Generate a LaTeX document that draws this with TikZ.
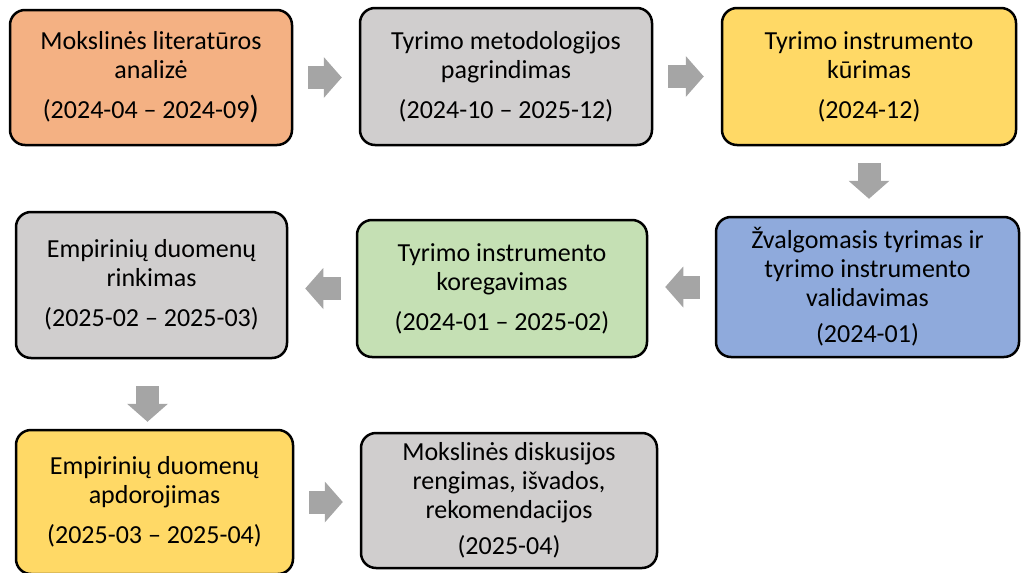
\documentclass[tikz,border=0pt]{standalone}
\usepackage{fontspec}
\setmainfont{Carlito}
\usepackage{xcolor}
\definecolor{LITCOLOR}{HTML}{F4B183}
\definecolor{GREYCOLOR}{HTML}{D0CECE}
\definecolor{YELLOWCOLOR}{HTML}{FFD966}
\definecolor{BLUECOLOR}{HTML}{8FAADC}
\definecolor{GREENCOLOR}{HTML}{C5E0B4}
\definecolor{ARROWCOLOR}{HTML}{A5A5A5}
\usetikzlibrary{arrows.meta,positioning,calc}
\tikzset{
  box-style/.style = {
    rectangle, rounded corners=15pt, draw, line width=2.5pt,
    fill=#1, align=center, inner sep=0pt,
    font=\fontsize{26}{29}\selectfont
  },
  lit-style/.style = {
    box-style=LITCOLOR
  },
  grey-style/.style = {
    box-style=GREYCOLOR
  },
  yellow-style/.style = {
    box-style=YELLOWCOLOR
  },
  blue-style/.style = {
    box-style=BLUECOLOR
  },
  green-style/.style = {
    box-style=GREENCOLOR
  },
  flow-style/.style = {
    draw=ARROWCOLOR, line width=23pt,
    -{Triangle[width=41pt,length=18pt,line width=0pt]},
    shorten <=15pt, shorten >=17pt
  }
}

\begin{document}
\begin{tikzpicture}[x=1pt,y=-1pt]
    \useasboundingbox (0,0) rectangle (1021,573);

    %%% first row
    \node[lit-style,minimum width=282pt,minimum height=135pt] (lit) at (151,77.5)
      {Mokslinės literatūros\\ analizė\\[11pt] (2024-04 – 2024-09{\fontsize{32}{32}\selectfont )}};
    \node[grey-style,minimum width=292pt,minimum height=137pt] (metod) at (506,76.5)
      {Tyrimo metodologijos\\ pagrindimas\\[11pt] (2024-10 – 2025-12)};
    \node[yellow-style,minimum width=294pt,minimum height=137pt] (kurimas) at (869,76.5)
      {Tyrimo instrumento\\ kūrimas\\[11pt] (2024-12)};

    %%% second row
    \node[blue-style,minimum width=303pt,minimum height=140pt] (zvalg) at (867.5,287)
      {Žvalgomasis tyrimas ir\\ tyrimo instrumento\\ validavimas\\[7pt] (2024-01)};
    \node[green-style,minimum width=290pt,minimum height=137pt] (koreg) at (502,288.5)
      {Tyrimo instrumento\\ koregavimas\\[11pt] (2024-01 – 2025-02)};
    \node[grey-style,minimum width=271pt,minimum height=146pt] (rinkimas) at (151.5,285)
      {Empirinių duomenų\\ rinkimas\\[11pt] (2025-02 – 2025-03)};

    %%% third row
    \node[yellow-style,minimum width=277pt,minimum height=144pt] (apdor) at (154.5,502)
      {Empirinių duomenų\\ apdorojimas\\[11pt] (2025-03 – 2025-04)};
    \node[grey-style,minimum width=296pt,minimum height=135pt] (diskus) at (509,500.5)
      {Mokslinės diskusijos\\ rengimas, išvados,\\ rekomendacijos\\[7pt] (2025-04)};

    %%% arrows
    \path[flow-style] (lit.east) -- (lit.east -| metod.west);
    \path[flow-style] (metod.east) -- (metod.east -| kurimas.west);
    \path[flow-style,shorten <=17pt] (kurimas.south) -- (kurimas.south |- zvalg.north);
    \path[flow-style] (zvalg.west) -- (zvalg.west -| koreg.east);
    \path[flow-style] (koreg.west) -- (koreg.west -| rinkimas.east);
    \path[flow-style,shorten <=27pt,shorten >=7pt] ([xshift=-4pt]rinkimas.south) -- ([xshift=-4pt]rinkimas.south |- apdor.north);
    \path[flow-style] (apdor.east) -- (apdor.east -| diskus.west);
\end{tikzpicture}
\end{document}
